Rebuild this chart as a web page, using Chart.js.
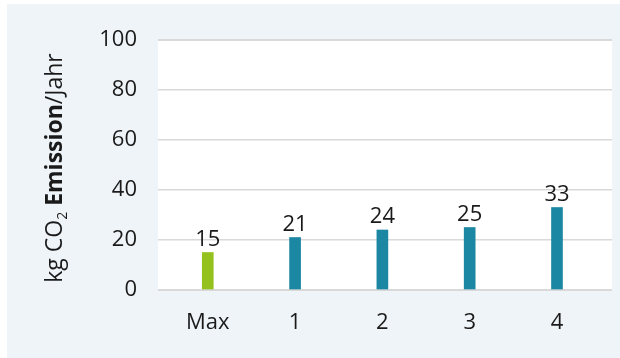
<html>
<head>
  <title></title>
  <style>
    body { margin: 0; background: #ffffff; }
    #box { width: 620px; height: 358px; }
  </style>
</head>
<body>
  <div id="box">
  <canvas id="myChart"></canvas>
</div>

<script src="https://cdn.jsdelivr.net/npm/chart.js"></script>

<script>
  const categories = ['Max', '1', '2', '3', '4'];
  const emissions = [15, 21, 24, 25, 33];
  const barColors = ['#95c11f', '#1b87a3', '#1b87a3', '#1b87a3', '#1b87a3'];
  const yTicks = [0, 20, 40, 60, 80, 100];

  const FONT = '"Open Sans", sans-serif';
  const ctx = document.getElementById('myChart');

  // panel + white plot area behind everything
  const background = {
    id: 'background',
    beforeDraw(chart) {
      const c = chart.ctx, a = chart.chartArea;
      c.save();
      c.fillStyle = '#eff4f8';
      c.fillRect(7, 4, chart.width - 7, chart.height - 4);
      c.fillStyle = '#ffffff';
      c.fillRect(a.left, a.top, a.right - a.left, a.bottom - a.top);
      c.restore();
    }
  };

  // value above each bar
  const valueLabels = {
    id: 'valueLabels',
    afterDatasetsDraw(chart) {
      const c = chart.ctx;
      c.save();
      c.font = '22px ' + FONT;
      c.fillStyle = '#1a1a1a';
      c.textAlign = 'center';
      c.textBaseline = 'alphabetic';
      chart.getDatasetMeta(0).data.forEach((bar, i) => {
        c.fillText(String(emissions[i]), bar.x, bar.y - 7);
      });
      c.restore();
    }
  };

  // y title: "kg CO2 Emission/Jahr" with subscript and bold part
  const yTitle = {
    id: 'yTitle',
    afterDraw(chart) {
      const c = chart.ctx;
      const parts = [
        { t: 'kg CO', f: '23px ' + FONT, dy: 0 },
        { t: '2', f: '14px ' + FONT, dy: 5 },
        { t: ' ', f: '23px ' + FONT, dy: 0 },
        { t: 'Emission', f: 'bold 23px ' + FONT, dy: 0 },
        { t: '/Jahr', f: '23px ' + FONT, dy: 0 }
      ];
      let total = 0;
      parts.forEach(p => { c.font = p.f; p.w = c.measureText(p.t).width; total += p.w; });
      const a = chart.chartArea;
      c.save();
      c.translate(62, (a.top + a.bottom) / 2 + 3);
      c.rotate(-Math.PI / 2);
      c.fillStyle = '#1a1a1a';
      c.textBaseline = 'alphabetic';
      let x = -total / 2;
      parts.forEach(p => {
        c.font = p.f;
        c.fillText(p.t, x, p.dy);
        x += p.w;
      });
      c.restore();
    }
  };

  new Chart(ctx, {
    type: 'bar',
    data: {
      datasets: [{
        data: emissions.map((v, i) => ({ x: i, y: v })),
        backgroundColor: barColors,
        barThickness: 11
      }]
    },
    options: {
      responsive: true,
      maintainAspectRatio: false,
      animation: false,
      layout: { padding: { left: 0, right: 8, top: 40, bottom: 0 } },
      plugins: { legend: { display: false }, tooltip: { enabled: false } },
      scales: {
        x: {
          type: 'linear',
          offset: false,
          min: -0.57,
          max: 4.63,
          grid: { display: false, drawTicks: false, offset: false },
          border: { display: false },
          afterBuildTicks: scale => { scale.ticks = categories.map((c, i) => ({ value: i })); },
          afterFit: scale => { scale.height = 68; },
          ticks: {
            autoSkip: false,
            maxRotation: 0,
            padding: 20,
            color: '#1a1a1a',
            font: { family: FONT, size: 22 },
            callback: v => categories[v]
          }
        },
        y: {
          min: 0,
          max: 100,
          afterBuildTicks: scale => { scale.ticks = yTicks.map(v => ({ value: v })); },
          afterFit: scale => { scale.width = 158; },
          grid: {
            color: '#d9d9d9',
            drawTicks: false,
            lineWidth: c => (c.tick && (c.tick.value === 0 || c.tick.value === 100)) ? 2 : 1.5
          },
          border: { display: false },
          ticks: {
            padding: 21,
            color: '#1a1a1a',
            font: { family: FONT, size: 22 }
          }
        }
      }
    },
    plugins: [background, valueLabels, yTitle]
  });
</script>

</body>
</html>
